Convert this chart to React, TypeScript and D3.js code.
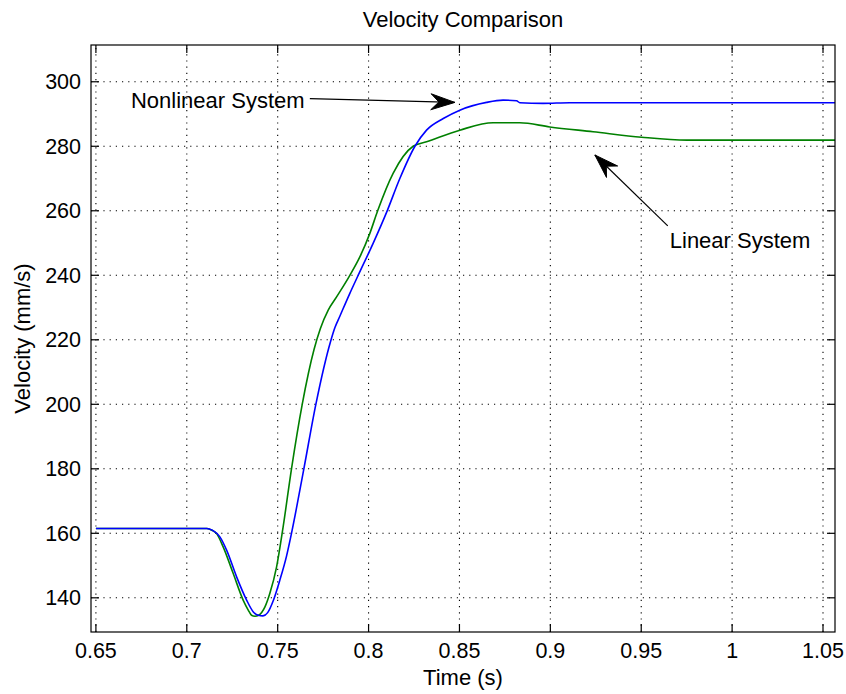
import React from "react";
import * as d3 from "d3";

const titleText = "Velocity Comparison";
const xLabel = "Time (s)";
const yLabel = "Velocity (mm/s)";

const xTicks = [0.65, 0.7, 0.75, 0.8, 0.85, 0.9, 0.95, 1, 1.05];
const xTickLabels = ["0.65", "0.7", "0.75", "0.8", "0.85", "0.9", "0.95", "1", "1.05"];
const yTicks = [140, 160, 180, 200, 220, 240, 260, 280, 300];
const yTickLabels = ["140", "160", "180", "200", "220", "240", "260", "280", "300"];

const xLimits = [0.6473, 1.0566];
const yLimits = [129.4, 311.4];

// Nonlinear system (blue)
const timeNonlinear = [0.65, 0.711, 0.714, 0.7182, 0.7219, 0.7274, 0.7329, 0.7365, 0.7393, 0.7419, 0.7445, 0.7475, 0.7512, 0.7549, 0.7576, 0.7644, 0.771, 0.7791, 0.7815, 0.7842, 0.7897, 0.7943, 0.8025, 0.8099, 0.8172, 0.8255, 0.8319, 0.8411, 0.8502, 0.8649, 0.874, 0.8814, 0.8832, 0.896, 0.9107, 1.0566];
const velNonlinear = [161.5, 161.5, 161.0, 158.9, 154.8, 146.5, 139.3, 135.7, 134.6, 134.4, 135.4, 139.0, 145.5, 153, 160, 180, 200, 219.5, 223.8, 227.3, 234.4, 240, 249.9, 259.5, 270, 280, 285, 288.6, 291.2, 293.6, 294.3, 294.1, 293.5, 293.3, 293.5, 293.5];

// Linear system (green)
const timeLinear = [0.65, 0.711, 0.7135, 0.7164, 0.72, 0.7255, 0.731, 0.7338, 0.7356, 0.7375, 0.7395, 0.743, 0.7457, 0.7494, 0.753, 0.7576, 0.7635, 0.77, 0.7735, 0.7778, 0.7824, 0.7897, 0.7952, 0.8007, 0.805, 0.8135, 0.8245, 0.8319, 0.8502, 0.8685, 0.8832, 0.8997, 0.9235, 0.9502, 0.975, 1.0566];
const velLinear = [161.5, 161.5, 161.0, 159.9, 155.8, 147.6, 139.3, 136.2, 134.6, 134.3, 134.6, 137.2, 141.4, 149.6, 162, 180, 200, 217, 223.5, 229.2, 233.3, 240, 245.7, 253, 260, 271.6, 280, 281.4, 285, 287.3, 287.3, 286, 284.5, 282.8, 281.9, 281.9];

// Annotations (data coordinates)
const annotationLabels = ["Nonlinear System", "Linear System"];
const annotationTextT = [0.6693, 0.9657];
const annotationTextV = [292.0, 248.4];
const arrowTailT = [0.7677, 0.9646];
const arrowTailV = [294.8, 255.3];
const arrowHeadT = [0.8475, 0.9245];
const arrowHeadV = [293.6, 277.3];

const W = 846;
const H = 694;
const left = 91, right = 835, top = 45, bottom = 632;
const FONT = "'Liberation Sans', Arial, Helvetica, sans-serif";

export default function App() {
  const x = d3.scaleLinear().domain(xLimits).range([left, right]);
  const y = d3.scaleLinear().domain(yLimits).range([bottom, top]);

  const line = d3
    .line<[number, number]>()
    .x((d) => x(d[0]))
    .y((d) => y(d[1]))
    .curve(d3.curveMonotoneX);

  const nonlin: [number, number][] = timeNonlinear.map((t, i) => [t, velNonlinear[i]]);
  const lin: [number, number][] = timeLinear.map((t, i) => [t, velLinear[i]]);

  const tickLen = 8;

  const arrowHead = (tx: number, ty: number, hx: number, hy: number) => {
    const dx = hx - tx, dy = hy - ty;
    const L = Math.sqrt(dx * dx + dy * dy);
    const ux = dx / L, uy = dy / L;
    const px = -uy, py = ux;
    const len = 24, hw = 8, notch = 16;
    const bx = hx - ux * len, by = hy - uy * len;
    const nx = hx - ux * notch, ny = hy - uy * notch;
    return `M${hx},${hy}L${bx + px * hw},${by + py * hw}L${nx},${ny}L${bx - px * hw},${by - py * hw}Z`;
  };

  return (
    <svg
      width={W}
      height={H}
      style={{ position: "absolute", left: 0, top: 0, background: "#fff" }}
      fontFamily={FONT}
    >
      <rect x={0} y={0} width={W} height={H} fill="#fff" />
      {/* grid */}
      <g stroke="#000" strokeWidth={1.1} strokeDasharray="1.2,5">
        {xTicks.map((t) => (
          <line key={"gx" + t} x1={x(t)} x2={x(t)} y1={bottom} y2={top} />
        ))}
        {yTicks.map((v) => (
          <line key={"gy" + v} x1={left} x2={right} y1={y(v)} y2={y(v)} />
        ))}
      </g>
      {/* curves */}
      <path d={line(lin) || ""} fill="none" stroke="#008000" strokeWidth={1.6} />
      <path d={line(nonlin) || ""} fill="none" stroke="#0000ff" strokeWidth={1.6} />
      {/* box */}
      <rect x={left} y={top} width={right - left} height={bottom - top} fill="none" stroke="#000" strokeWidth={1.2} />
      {/* ticks */}
      <g stroke="#000" strokeWidth={1.2}>
        {xTicks.map((t) => (
          <g key={"tx" + t}>
            <line x1={x(t)} x2={x(t)} y1={bottom} y2={bottom - tickLen} />
            <line x1={x(t)} x2={x(t)} y1={top} y2={top + tickLen} />
          </g>
        ))}
        {yTicks.map((v) => (
          <g key={"ty" + v}>
            <line x1={left} x2={left + tickLen} y1={y(v)} y2={y(v)} />
            <line x1={right} x2={right - tickLen} y1={y(v)} y2={y(v)} />
          </g>
        ))}
      </g>
      {/* tick labels */}
      <g fontSize={21.5} fill="#000">
        {xTicks.map((t, i) => (
          <text key={"lx" + t} x={x(t)} y={658} textAnchor="middle">
            {xTickLabels[i]}
          </text>
        ))}
        {yTicks.map((v, i) => (
          <text key={"ly" + v} x={81} y={y(v)} dy="0.35em" textAnchor="end">
            {yTickLabels[i]}
          </text>
        ))}
      </g>
      {/* labels */}
      <text x={(left + right) / 2} y={27} textAnchor="middle" fontSize={22}>
        {titleText}
      </text>
      <text x={(left + right) / 2} y={685} textAnchor="middle" fontSize={22}>
        {xLabel}
      </text>
      <text
        transform={`translate(30,${(top + bottom) / 2}) rotate(-90)`}
        textAnchor="middle"
        fontSize={22}
      >
        {yLabel}
      </text>
      {/* annotations */}
      {annotationLabels.map((lab, i) => {
        const tx = x(arrowTailT[i]), ty = y(arrowTailV[i]);
        const hx = x(arrowHeadT[i]), hy = y(arrowHeadV[i]);
        return (
          <g key={"ann" + i}>
            <line x1={tx} y1={ty} x2={hx} y2={hy} stroke="#000" strokeWidth={1.2} />
            <path d={arrowHead(tx, ty, hx, hy)} fill="#000" stroke="#000" strokeWidth={1} />
            <text x={x(annotationTextT[i])} y={y(annotationTextV[i])} fontSize={22} fill="#000">
              {lab}
            </text>
          </g>
        );
      })}
    </svg>
  );
}
